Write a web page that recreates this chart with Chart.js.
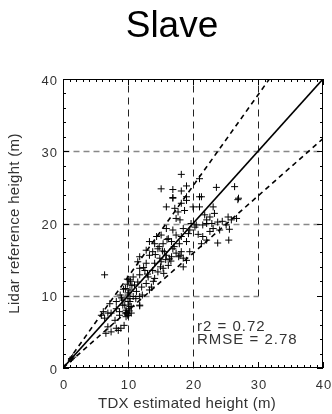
<!DOCTYPE html>
<html>
<head>
<meta charset="utf-8">
<script src="https://cdn.jsdelivr.net/npm/chart.js@4.4.1/dist/chart.umd.min.js"></script>
<style>
  html, body { margin: 0; padding: 0; background: #fff; }
  #wrap { width: 332px; height: 414px; }
</style>
</head>
<body>
<div id="wrap"><canvas id="c" width="332" height="414"></canvas></div>
<script>
// TDX estimated height (m) vs Lidar reference height (m)
const tdxHeight = [
  6.4, 16.9, 18.2, 19.0, 21.3, 26.9, 15.9, 17.2, 17.7, 18.7, 20.0, 21.0, 23.1, 23.3, 22.6, 22.1,
  23.8, 25.4, 25.9, 26.7, 17.4, 18.0, 19.7, 20.5, 21.5, 22.1, 23.1, 24.1, 25.1, 25.6, 22.6, 15.9,
  16.9, 18.5, 19.5, 14.4, 15.1, 16.2, 17.4, 18.2, 21.5, 22.1, 21.3, 23.8, 25.5, 13.3, 14.1, 15.4,
  16.7, 17.9, 19.0, 12.8, 13.8, 14.6, 15.6, 16.9, 17.4, 18.2, 19.5, 11.8, 13.3, 14.9, 15.9, 16.7,
  18.0, 18.5, 19.0, 11.5, 12.8, 14.1, 15.1, 16.2, 18.5, 11.8, 12.6, 13.8, 14.6, 15.4, 10.8, 11.8,
  13.1, 14.1, 10.3, 11.5, 12.8, 11.0, 12.1, 13.6, 10.3, 11.3, 13.3, 10.0, 10.8, 11.8, 9.2, 10.3,
  9.5, 10.5, 11.8, 8.2, 9.7, 6.9, 8.7, 10.0, 5.9, 7.2, 8.2, 9.2, 10.0, 10.3, 11.8, 6.2, 7.4, 8.7,
  9.6, 10.0, 10.5, 6.4, 8.0, 9.7, 6.9, 8.2, 8.9, 6.6, 7.4, 8.5, 9.4, 1.3, 1.5,
  18.2, 15.1, 16.9, 18.2, 19.0, 21.0, 23.6, 26.4, 16.9, 19.0, 21.0, 27.0,
  10.0, 10.2, 9.8, 10.1, 9.9, 10.4, 9.6, 10.0, 10.3, 9.3, 9.9, 10.6,
  14.8, 15.3, 15.8, 16.4, 17.1, 15.0, 14.2, 16.0, 17.8, 16.6, 15.5, 13.0,
  20.3, 21.8, 24.5, 22.9, 19.3, 20.8, 12.2, 11.2, 12.4, 13.9, 8.8, 9.0
];
const lidarHeight = [
  12.9, 23.6, 22.8, 23.2, 23.7, 23.3, 22.3, 22.1, 21.6, 21.8, 22.3, 22.3, 22.3, 21.4, 20.9, 20.5,
  20.2, 20.9, 20.5, 20.7, 20.7, 20.5, 20.0, 19.8, 19.8, 20.0, 19.3, 19.1, 19.8, 19.2, 18.9, 19.3,
  19.1, 19.3, 19.1, 18.2, 18.4, 17.9, 18.4, 18.2, 18.2, 17.7, 17.2, 17.3, 17.7, 17.5, 17.2, 17.2,
  17.5, 17.2, 17.5, 16.3, 16.1, 16.5, 16.1, 16.5, 15.9, 16.1, 16.1, 15.4, 15.6, 15.2, 15.6, 15.4,
  15.6, 15.2, 14.9, 14.7, 14.5, 14.5, 14.7, 14.2, 14.0, 13.8, 13.5, 13.5, 13.3, 13.8, 12.6, 12.9,
  12.6, 12.4, 12.2, 11.9, 11.7, 11.5, 11.2, 11.2, 10.8, 10.6, 10.8, 10.1, 9.9, 9.9, 9.4, 9.2,
  8.7, 8.5, 8.7, 8.2, 8.0, 7.6, 7.8, 7.3, 7.3, 8.9, 9.2, 8.7, 9.2, 8.5, 8.6, 7.8, 7.6, 7.3,
  7.6, 7.3, 7.6, 6.9, 6.6, 7.1, 5.7, 5.5, 5.5, 4.8, 5.0, 5.2, 5.9, 1.3, 1.5,
  26.8, 24.8, 24.7, 24.5, 25.2, 26.2, 25.0, 25.1, 23.5, 23.7, 23.7, 23.5,
  7.5, 7.9, 7.7, 8.2, 11.6, 12.0, 11.0, 10.4, 9.6, 10.9, 12.3, 11.4,
  16.8, 16.2, 15.0, 15.1, 16.8, 14.0, 15.7, 17.8, 15.4, 14.8, 13.1, 13.0,
  19.5, 21.2, 20.3, 20.0, 18.6, 18.5, 10.1, 9.6, 13.9, 12.0, 10.1, 9.7
];

// reference lines through the origin: 1:1 and the upper / lower bounds
const oneToOneX = [0, 40];
const oneToOneY = [0, 40];
const upperBoundX = [0, 31.75];
const upperBoundY = [0, 40];
const lowerBoundX = [0, 40];
const lowerBoundY = [0, 31.75];

const axisTicks = [0, 10, 20, 30, 40];
const statsLines = ['r2 = 0.72', 'RMSE = 2.78'];
const titleText = 'Slave';
const xTitle = 'TDX estimated height (m)';
const yTitle = 'Lidar reference height (m)';

const pairs = (xs, ys) => xs.map((x, i) => ({ x: x, y: ys[i] }));

const decor = {
  id: 'decor',
  beforeDatasetsDraw(chart) {
    const { ctx, scales: { x, y } } = chart;
    ctx.save();
    // dashed grid
    const seg = (x0, y0, x1, y1) => {
      ctx.beginPath();
      ctx.moveTo(Math.round(x.getPixelForValue(x0)) + 0.5, Math.round(y.getPixelForValue(y0)) + 0.5);
      ctx.lineTo(Math.round(x.getPixelForValue(x1)) + 0.5, Math.round(y.getPixelForValue(y1)) + 0.5);
      ctx.stroke();
    };
    ctx.setLineDash([7, 5]);
    ctx.strokeStyle = '#222';
    ctx.lineWidth = 1;
    seg(10, 0, 10, 40);
    seg(20, 0, 20, 40);
    seg(30, 10, 30, 40);
    ctx.strokeStyle = '#888';
    ctx.lineWidth = 1.5;
    ctx.setLineDash([6, 4]);
    seg(0, 10, 30, 10);
    seg(0, 20, 40, 20);
    seg(0, 30, 40, 30);
    ctx.restore();
  },
  afterDraw(chart) {
    const { ctx, chartArea: a, scales: { x, y } } = chart;
    ctx.save();
    // frame
    ctx.strokeStyle = '#000';
    ctx.lineWidth = 1;
    ctx.strokeRect(a.left + 0.5, a.top + 0.5, a.right - a.left - 1, a.bottom - a.top - 1);
    // inward ticks on all four sides
    ctx.beginPath();
    for (let v = 0; v <= 40; v += 1) {
      const px = Math.round(x.getPixelForValue(v)) + 0.5;
      const len = v % 10 === 0 ? 6 : 3;
      ctx.moveTo(px, a.bottom); ctx.lineTo(px, a.bottom - len);
      ctx.moveTo(px, a.top); ctx.lineTo(px, a.top + len);
    }
    for (let v = 0; v <= 40; v += 2) {
      const py = Math.round(y.getPixelForValue(v)) + 0.5;
      const len = v % 10 === 0 ? 6 : 3;
      ctx.moveTo(a.left, py); ctx.lineTo(a.left + len, py);
      ctx.moveTo(a.right, py); ctx.lineTo(a.right - len, py);
    }
    ctx.stroke();

    // tick labels
    ctx.fillStyle = '#333';
    ctx.font = '13px "Liberation Sans", Arial, sans-serif';
    ctx.letterSpacing = '1px';
    ctx.textAlign = 'center';
    ctx.textBaseline = 'middle';
    axisTicks.forEach(v => ctx.fillText(String(v), x.getPixelForValue(v) + 1, 385));
    ctx.textAlign = 'right';
    axisTicks.forEach(v => ctx.fillText(String(v), a.left - 5, y.getPixelForValue(v) + 2));

    // axis titles
    ctx.font = '15px "Liberation Sans", Arial, sans-serif';
    ctx.letterSpacing = '0.3px';
    ctx.textAlign = 'center';
    ctx.fillText(xTitle, (a.left + a.right) / 2 - 6, 404);
    ctx.save();
    ctx.translate(15, (a.top + a.bottom) / 2);
    ctx.rotate(-Math.PI / 2);
    ctx.fillText(yTitle, 0, 0);
    ctx.restore();

    // statistics
    ctx.font = '15px "Liberation Sans", Arial, sans-serif';
    ctx.letterSpacing = '1px';
    ctx.textAlign = 'left';
    ctx.textBaseline = 'alphabetic';
    ctx.fillText(statsLines[0], 197, 331);
    ctx.fillText(statsLines[1], 197, 344);

    // title
    ctx.letterSpacing = '0px';
    ctx.fillStyle = '#000';
    ctx.font = '37px "Liberation Sans", Arial, sans-serif';
    ctx.textAlign = 'center';
    ctx.fillText(titleText, 172, 37);
    ctx.restore();
  }
};

new Chart(document.getElementById('c'), {
  type: 'scatter',
  data: {
    datasets: [
      {
        data: pairs(tdxHeight, lidarHeight),
        pointStyle: 'cross',
        pointRadius: 3.5,
        pointBorderWidth: 1,
        borderColor: '#000',
        backgroundColor: '#000'
      },
      {
        type: 'line',
        data: pairs(oneToOneX, oneToOneY),
        borderColor: '#000',
        borderWidth: 1.6,
        pointRadius: 0,
        fill: false
      },
      {
        type: 'line',
        data: pairs(upperBoundX, upperBoundY),
        borderColor: '#000',
        borderWidth: 1.6,
        borderDash: [5, 4],
        pointRadius: 0,
        fill: false
      },
      {
        type: 'line',
        data: pairs(lowerBoundX, lowerBoundY),
        borderColor: '#000',
        borderWidth: 1.6,
        borderDash: [5, 4],
        pointRadius: 0,
        fill: false
      }
    ]
  },
  options: {
    responsive: false,
    animation: false,
    layout: { padding: { left: 63, right: 9, top: 79, bottom: 46 } },
    plugins: { legend: { display: false }, title: { display: false }, tooltip: { enabled: false } },
    scales: {
      x: { type: 'linear', min: 0, max: 40, display: false },
      y: { type: 'linear', min: 0, max: 40, display: false }
    }
  },
  plugins: [decor]
});
</script>
</body>
</html>
